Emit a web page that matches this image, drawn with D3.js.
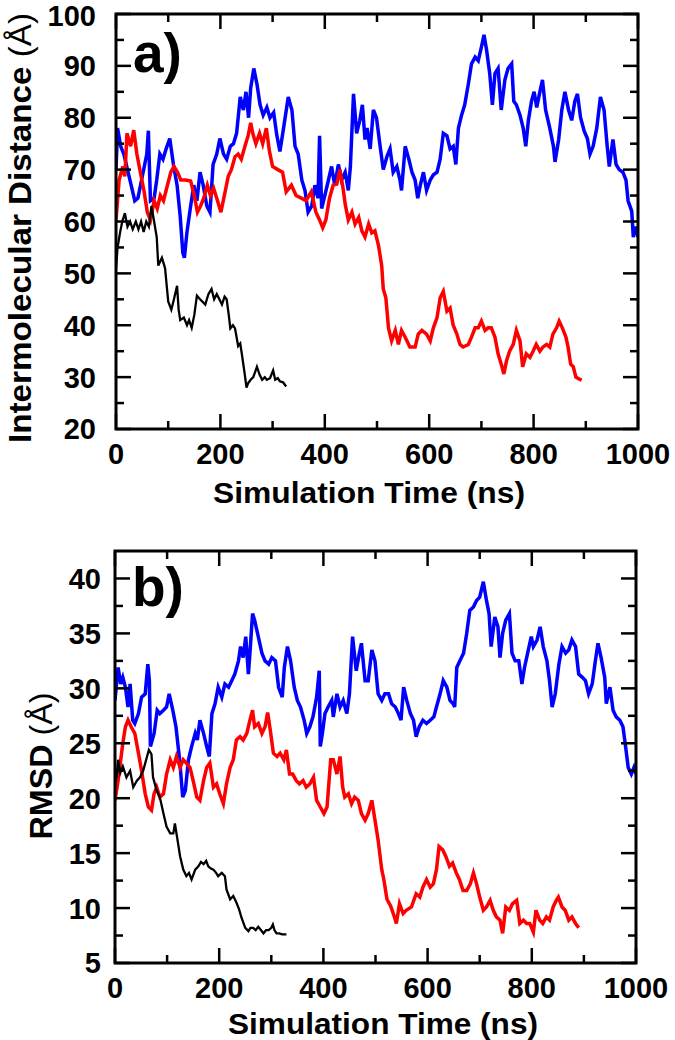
<!DOCTYPE html>
<html>
<head>
<meta charset="utf-8">
<script src="https://cdn.jsdelivr.net/npm/d3@7"></script>
<style>
  html, body { margin: 0; padding: 0; background: #fff; }
  svg { display: block; font-family: Arial, "Liberation Sans", sans-serif; }
</style>
</head>
<body>
<svg id="chart" width="675" height="1040"></svg>
<script>
// ---------------- DATA ----------------
const xTicks = [0, 200, 400, 600, 800, 1000];
const distTicks = [20, 30, 40, 50, 60, 70, 80, 90, 100];
const rmsdTicks = [5, 10, 15, 20, 25, 30, 35, 40];
const xTitle = "Simulation Time (ns)";
const distTitle = "Intermolecular Distance";
const rmsdTitle = "RMSD";
const unitText = " (Å)";
const seriesColors = ["#0000ff", "#ff0000", "#000000"];

// Panel a: intermolecular distance (Å) vs time (ns)
const distBlue = [[0,70],[3,78],[9,74.5],[15,73],[22,70],[29,67],[36,64],[42,64.5],[49,68],[59,73],[62,77.5],[66,64],[73,64.5],[78,68],[84,73],[90,72],[96,74],[103,76],[110,71],[117,67],[123,61],[128,54],[131,53],[136,58],[143,63],[149,67],[155,64],[161,69.5],[167,67],[174,63],[180,61.8],[186,71],[193,73],[199,76],[206,73],[212,72],[219,74.5],[225,75],[231,77],[238,84],[244,81.5],[249,85],[254,80],[258,85.7],[264,89.5],[270,86.5],[276,82.5],[282,80.5],[289,82],[295,80],[302,81],[308,76.7],[314,73.5],[321,78],[330,84],[337,81.5],[343,74.5],[349,73],[356,68],[362,66],[368,61.8],[375,63],[381,67],[387,64.5],[390,76.5],[394,62.5],[400,65],[407,68],[413,70.6],[419,67],[426,71],[432,68],[439,69.5],[445,66],[449,70.6],[455,84.6],[461,77],[467,79.5],[472,82.5],[477,75.8],[481,78],[487,74],[493,81.5],[499,80],[506,74.5],[512,70],[519,72.5],[525,74],[531,69.5],[538,70.6],[544,68],[547,66],[554,74.5],[561,72],[567,69.5],[573,68],[578,64.5],[583,67],[589,69.5],[595,66],[602,68],[608,69],[615,69.5],[621,72],[627,77],[634,76.5],[640,74],[646,74.5],[651,71],[656,78],[662,80.5],[668,82.5],[675,86.5],[681,90.4],[688,91.7],[694,91],[700,93.6],[705,96],[710,93],[716,88.5],[721,82.5],[726,88.5],[732,89.5],[738,81.5],[745,87.3],[751,89.5],[758,90.4],[762,83.2],[767,82.5],[774,80.5],[780,78],[785,74.5],[790,79.5],[796,83.2],[801,85],[806,82],[812,85],[817,87.3],[823,81.5],[831,78],[838,74.5],[841,71.5],[848,75.8],[854,81.5],[860,85],[867,81.5],[873,79.5],[879,83.2],[884,84.6],[890,80],[897,77.4],[903,76],[908,73],[914,74.5],[921,78],[928,84],[935,81.5],[941,74.5],[945,70.6],[952,75.8],[958,71],[964,70],[971,69.5],[977,68],[981,64],[988,62],[991,57],[996,59],[1000,57]];
const distRed = [[0,60.3],[6,68],[13,70.6],[17,68.7],[21,77],[28,74.5],[34,77.6],[40,73],[47,69.3],[54,65.7],[60,61.8],[66,60.3],[73,64],[79,62.5],[85,65],[91,64],[97,66.4],[105,69.5],[111,70.6],[118,69.5],[124,68],[133,68],[143,67.8],[150,65],[156,61.8],[162,63],[168,64.5],[175,67],[181,65],[187,66.4],[193,64.5],[201,61.8],[209,65.7],[215,68.7],[221,70],[228,72.5],[234,73],[240,72],[247,74.5],[253,76.5],[258,79],[262,77],[268,75],[275,77],[281,75],[288,78],[294,73.5],[300,70.6],[310,70],[319,69.5],[326,65.7],[336,67],[345,65],[355,64.5],[364,64],[374,65.7],[383,61.8],[390,60.3],[396,58.8],[402,60.3],[409,64.5],[416,67],[423,67.2],[429,70],[435,66.4],[439,63.4],[445,60.3],[452,61.8],[458,59.5],[465,60.8],[471,58.2],[477,57],[484,59.5],[490,57.8],[496,58.2],[503,55.3],[509,51.5],[512,47],[517,45.3],[522,39.5],[528,37],[535,39],[541,36.3],[547,39],[554,37.7],[563,35.8],[573,35.8],[579,38.3],[586,39],[595,38.3],[602,37],[608,39.5],[615,41.5],[621,45.3],[627,46.5],[634,42.7],[640,43.3],[646,40],[653,38.3],[659,36.3],[665,35.8],[675,36.3],[681,37.7],[688,39.5],[694,39.5],[700,40.8],[707,39],[713,39.5],[719,39.5],[726,37.7],[732,34.5],[738,32.5],[743,30.6],[748,33.1],[754,35],[761,36.3],[767,39],[774,37],[779,32],[786,34.5],[793,33.8],[799,35],[805,36.3],[812,35],[818,35.8],[825,36.3],[831,35.8],[837,38.3],[844,39.5],[849,40.8],[855,39.5],[862,37.7],[866,35.8],[871,32.5],[876,32],[881,30],[886,29.7],[892,29.4]];
const distBlack = [[0,51],[3,55],[8,58],[12,60],[17,61.6],[22,59],[27,60],[32,58.5],[38,60],[43,58.5],[48,60],[53,58],[58,60],[63,59],[68,63],[73,60],[78,57],[81,51.5],[88,53],[94,51],[100,44.6],[106,43],[111,45],[117,47.6],[120,43],[123,41],[130,41.5],[136,40],[140,41],[145,39.5],[150,42],[155,45.7],[161,45],[166,44.5],[171,44],[177,46],[183,47],[188,45],[193,46],[198,45],[203,44],[208,45.5],[212,45],[216,42],[219,39.4],[224,40],[228,39.4],[234,36],[238,36.5],[241,34.5],[246,31],[250,28],[253,28.8],[258,29.5],[263,30],[270,32],[275,30.5],[280,29.5],[285,30],[289,29.5],[295,29.8],[301,31.3],[305,29.5],[310,29.8],[314,29.2],[320,29],[326,28.2]];

// Panel b: RMSD (Å) vs time (ns)
const rmsdBlue = [[0,28.9],[6,31.9],[11,30.4],[15,31],[20,30.1],[25,28.3],[29,30.4],[34,27.1],[38,26.8],[45,27.7],[51,29.2],[58,29.5],[63,32.2],[66,30.7],[68,24.7],[75,25.9],[81,28],[86,27.7],[93,28],[99,28.3],[104,29.5],[111,28],[117,26.5],[124,23.5],[130,20.1],[135,20.7],[141,23.5],[147,24.7],[154,25.9],[158,25.3],[163,27.1],[170,25.9],[176,24.7],[181,23.8],[186,27.7],[192,28.6],[198,30.1],[205,29.2],[211,30.4],[218,30.1],[224,30.7],[230,31.3],[237,32.5],[241,33.8],[246,32.8],[251,34.7],[256,31.3],[259,33.2],[264,36.8],[268,36.2],[275,34.7],[282,33.2],[288,32.5],[295,32.2],[301,32.8],[308,32.5],[314,30.1],[321,29.2],[325,31.9],[331,33.8],[337,32.5],[344,30.1],[350,28.9],[356,28.3],[363,27.1],[368,25.9],[374,26.5],[380,27.4],[387,29.2],[392,31.6],[394,24.7],[398,25.9],[403,27.7],[409,28.3],[416,28.9],[419,27.4],[426,29.5],[432,28.3],[438,28.9],[445,27.7],[450,29.5],[456,34.7],[463,31.6],[469,33.2],[473,34.1],[480,30.7],[486,30.7],[493,33.5],[499,32.5],[505,29.5],[512,28.9],[518,29.5],[525,29.5],[531,28.6],[538,28.3],[544,27.7],[549,27.1],[554,30.1],[560,28.9],[567,27.7],[573,27.1],[578,25.6],[584,26.5],[591,27.1],[598,26.8],[605,27.1],[612,27.4],[617,28.3],[624,29.5],[630,30.7],[637,30.1],[643,28.9],[649,28.6],[652,28.3],[656,31.9],[662,32.5],[669,33.2],[675,35],[681,37.1],[688,37.4],[694,38],[700,38.3],[707,39.7],[713,38],[718,36.8],[722,33.8],[729,36.5],[735,35.6],[739,32.8],[744,35],[750,36.2],[757,36.8],[762,33.2],[768,32.5],[775,32.5],[781,30.4],[786,31.9],[792,33.2],[799,34.7],[803,33.8],[810,34.4],[816,35.6],[822,33.8],[829,32.5],[834,30.7],[839,28.3],[845,29.5],[852,32.2],[858,33.8],[865,33.2],[871,33.5],[877,34.4],[884,33.8],[890,31.3],[897,31],[903,30.7],[909,29.5],[916,30.4],[922,32.5],[927,34.1],[933,32.8],[940,31],[943,28.6],[950,30.1],[956,28],[962,27.4],[969,27.1],[975,26.5],[980,24.7],[985,22.8],[991,22.2],[996,22.8],[1000,22.2]];
const rmsdRed = [[0,19.8],[6,21.6],[11,23.5],[15,25],[20,26.5],[25,27.1],[31,26.5],[38,25.9],[45,24.1],[51,22.5],[58,20.4],[64,19.2],[70,18.9],[75,20.4],[80,21],[86,20.1],[93,20.4],[99,22.2],[106,23.5],[112,22.8],[118,23.8],[125,22.8],[131,23.5],[137,23.2],[144,22.8],[150,21.6],[157,20.1],[163,19.8],[170,21.6],[176,22.8],[182,23.2],[189,21],[195,21.3],[201,20.4],[208,19.5],[214,21.3],[221,22.8],[227,23.5],[233,25.3],[240,25.6],[246,25.3],[253,25.9],[259,27.1],[264,28],[268,26.5],[275,26.8],[282,25.9],[288,26.5],[293,27.8],[298,26.2],[304,24.1],[311,23.8],[317,24.1],[324,23.5],[329,24.4],[335,22.2],[341,22.2],[348,21.6],[354,21.3],[361,21.6],[367,21],[374,21.3],[381,21.9],[387,19.8],[394,19.2],[401,18.6],[407,19.2],[414,23.5],[419,23.5],[426,22.2],[432,23.8],[437,21],[441,20.1],[448,20.4],[454,19.5],[460,20.1],[467,19.8],[473,18.6],[480,18],[486,18.6],[493,19.8],[499,18],[505,16.2],[512,13.5],[516,12.6],[522,10.8],[529,10.2],[537,9.1],[540,8.6],[546,10.4],[553,9.5],[559,9.8],[569,10.1],[578,11.3],[585,11],[591,11.9],[598,12.6],[605,11.9],[611,12.2],[617,13.5],[622,15.6],[629,15.3],[635,14.7],[642,13.8],[648,14.1],[655,13.2],[661,12.6],[668,11.6],[675,11.6],[682,12.2],[688,13.2],[694,12.2],[700,11],[707,9.8],[713,10.1],[720,10.7],[726,9.8],[732,9.2],[739,8.9],[744,7.7],[750,10.1],[757,9.8],[763,10.4],[771,10.7],[777,8.6],[784,8.9],[790,8.6],[796,8.6],[803,7.8],[808,9.8],[815,8.9],[821,8.6],[828,9.2],[834,8.9],[841,10.1],[847,10.7],[851,11],[858,10.1],[864,9.8],[871,8.9],[877,9.2],[884,8.6],[890,8.2]];
const rmsdBlack = [[0,21],[3,22],[6,23.5],[10,22.3],[15,22.9],[22,21.9],[29,22.5],[35,21],[42,21.6],[48,21.9],[54,22.5],[61,23.7],[65,24.4],[70,24],[73,21.9],[80,20.7],[86,20.1],[93,18.6],[99,17.4],[106,16.8],[112,16.8],[115,17.7],[118,16.8],[125,14.7],[131,13.5],[137,12.9],[142,13.2],[147,12.6],[154,13.5],[160,13.8],[165,14.2],[170,14],[175,14.3],[179,13.8],[184,13.6],[189,13.5],[194,13.2],[198,12.9],[205,13.2],[211,12.9],[214,11.7],[221,10.8],[227,11.1],[233,10.5],[238,9.9],[243,9.1],[250,8.2],[256,7.9],[260,8.2],[265,8.2],[270,8.0],[275,8.3],[280,8.0],[285,7.7],[290,8.0],[295,8.0],[300,8.2],[303,8.5],[306,8.0],[310,7.7],[315,7.7],[321,7.6],[329,7.6]];

// ---------------- DRAW ----------------
const svg = d3.select("#chart");
const FONT = 'Arial, "Liberation Sans", sans-serif';

function panel(cfg) {
  const x = d3.scaleLinear().domain([0, 1000]).range([cfg.left, cfg.right]);
  const y = d3.scaleLinear().domain(cfg.yDomain).range([cfg.bottom, cfg.top]);
  const g = svg.append("g");
  const clipId = "clip" + cfg.id;
  svg.append("clipPath").attr("id", clipId).append("rect")
    .attr("x", cfg.left).attr("y", cfg.top)
    .attr("width", cfg.right - cfg.left).attr("height", cfg.bottom - cfg.top);

  const line = d3.line().x(d => x(d[0])).y(d => y(d[1]));
  const lines = g.append("g").attr("clip-path", `url(#${clipId})`);
  cfg.series.forEach((s, i) => {
    lines.append("path").datum(s)
      .attr("fill", "none")
      .attr("stroke", seriesColors[i])
      .attr("stroke-width", i === 2 ? 2.3 : 3.5)
      .attr("stroke-linejoin", "miter")
      .attr("d", line);
  });

  // axes with inward ticks (major + minor)
  const major = 15, minor = 8;
  const xMinor = d3.range(100, 1000, 200);
  const yMinor = cfg.yMinor;
  const axG = g.append("g").attr("stroke", "#000").attr("stroke-width", 2.5);
  xTicks.forEach(t => {
    axG.append("line").attr("x1", x(t)).attr("x2", x(t)).attr("y1", cfg.bottom).attr("y2", cfg.bottom - major);
    axG.append("line").attr("x1", x(t)).attr("x2", x(t)).attr("y1", cfg.top).attr("y2", cfg.top + major);
  });
  xMinor.forEach(t => {
    axG.append("line").attr("x1", x(t)).attr("x2", x(t)).attr("y1", cfg.bottom).attr("y2", cfg.bottom - minor);
    axG.append("line").attr("x1", x(t)).attr("x2", x(t)).attr("y1", cfg.top).attr("y2", cfg.top + minor);
  });
  cfg.yTicks.forEach(v => {
    axG.append("line").attr("y1", y(v)).attr("y2", y(v)).attr("x1", cfg.left).attr("x2", cfg.left + major);
    axG.append("line").attr("y1", y(v)).attr("y2", y(v)).attr("x1", cfg.right).attr("x2", cfg.right - major);
  });
  yMinor.forEach(v => {
    axG.append("line").attr("y1", y(v)).attr("y2", y(v)).attr("x1", cfg.left).attr("x2", cfg.left + minor);
    axG.append("line").attr("y1", y(v)).attr("y2", y(v)).attr("x1", cfg.right).attr("x2", cfg.right - minor);
  });
  g.append("rect")
    .attr("x", cfg.left).attr("y", cfg.top)
    .attr("width", cfg.right - cfg.left).attr("height", cfg.bottom - cfg.top)
    .attr("fill", "none").attr("stroke", "#000").attr("stroke-width", 3);

  // tick labels
  const tl = g.append("g").attr("font-family", FONT).attr("font-weight", "bold").attr("font-size", 29).attr("fill", "#000");
  xTicks.forEach(t => {
    tl.append("text").attr("x", x(t)).attr("y", cfg.bottom + 35).attr("text-anchor", "middle").text(t);
  });
  cfg.yTicks.forEach(v => {
    tl.append("text").attr("x", cfg.yLabelX).attr("y", Math.max(y(v), cfg.top + 1.5)).attr("dy", "0.36em").attr("text-anchor", "end").text(v);
  });

  // x title
  g.append("text").attr("x", cfg.xTitleX).attr("y", cfg.bottom + cfg.xTitleDy)
    .attr("text-anchor", "middle").attr("font-family", FONT).attr("font-weight", "bold")
    .attr("font-size", 29).attr("textLength", cfg.xTitleLen).attr("lengthAdjust", "spacingAndGlyphs")
    .text(xTitle);

  // y title
  const yt = g.append("text")
    .attr("transform", `translate(${cfg.yTitleX},${cfg.yTitleY}) rotate(-90)`)
    .attr("text-anchor", "middle").attr("font-family", FONT).attr("font-size", cfg.yTitleSize)
    .attr("textLength", cfg.yTitleLen).attr("lengthAdjust", "spacingAndGlyphs");
  yt.append("tspan").attr("font-weight", "bold").text(cfg.yTitle);
  yt.append("tspan").attr("font-weight", "normal").text(unitText);

  // panel letter
  g.append("text").attr("x", cfg.left + 17).attr("y", cfg.letterY)
    .attr("font-family", FONT).attr("font-weight", "bold").attr("font-size", 55)
    .text(cfg.letter);
}

panel({
  id: "a", left: 116, right: 638, top: 14, bottom: 429,
  yDomain: [20, 100], yTicks: distTicks, yMinor: d3.range(25, 100, 10),
  series: [distBlue, distRed, distBlack],
  yLabelX: 96, xTitleX: 369, xTitleDy: 74, xTitleLen: 312,
  yTitle: distTitle, yTitleX: 31, yTitleY: 228, yTitleSize: 31, yTitleLen: 430,
  letter: "a)", letterY: 72
});

panel({
  id: "b", left: 115, right: 636, top: 551, bottom: 963,
  yDomain: [5, 42.5], yTicks: rmsdTicks, yMinor: d3.range(7.5, 42.5, 5),
  series: [rmsdBlue, rmsdRed, rmsdBlack],
  yLabelX: 101, xTitleX: 383, xTitleDy: 71, xTitleLen: 310,
  yTitle: rmsdTitle, yTitleX: 52, yTitleY: 766, yTitleSize: 32, yTitleLen: 147,
  letter: "b)", letterY: 606
});
</script>
</body>
</html>
